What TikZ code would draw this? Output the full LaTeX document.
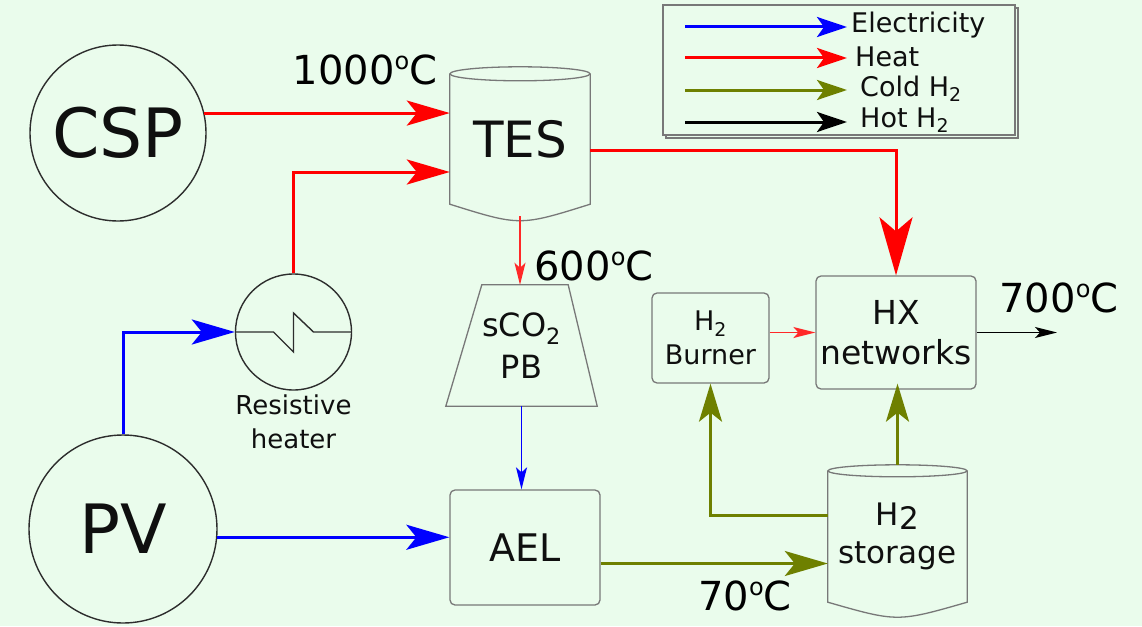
\documentclass[tikz,border=0pt]{standalone}
\usepackage{fontspec}
\setmainfont{DejaVu Sans}
\usetikzlibrary{arrows.meta,calc}
\definecolor{bg}{RGB}{234,252,236}
\definecolor{elec}{RGB}{0,0,255}
\definecolor{heat}{RGB}{255,0,0}
\definecolor{heatlt}{RGB}{255,40,40}
\definecolor{coldh}{RGB}{110,128,0}
\definecolor{boxline}{RGB}{120,120,120}
\definecolor{circline}{RGB}{45,45,45}
\definecolor{txt}{RGB}{15,15,15}
\newcommand\dgo{\raisebox{0.38em}{\scalebox{0.6}{o}}}
\tikzset{
  outl/.style={draw=boxline, line width=1.3pt},
  rbox/.style={draw=boxline, line width=1.3pt, rounded corners=5pt, inner sep=0pt, align=center, text=txt},
  plainbox/.style={draw=none, inner sep=0pt, align=center, text=txt},
  ring/.style={circle, draw=circline, line width=1.4pt, inner sep=0pt, text=txt},
  bigtip/.style={-{Stealth[length=43pt,width=25pt,inset=10pt]}},
  hugetip/.style={-{Stealth[length=58pt,width=33pt,inset=14pt]}},
  medtip/.style={-{Stealth[length=38pt,width=23pt,inset=9pt]}},
  smalltip/.style={-{Stealth[length=22pt,width=11pt,inset=5pt]}},
  legtip/.style={-{Stealth[length=30pt,width=20pt,inset=7pt]}},
  heatw/.style={draw=heat, line width=3pt},
  heatthin/.style={draw=heatlt, line width=1.5pt},
  elecw/.style={draw=elec, line width=3pt},
  electhin/.style={draw=elec, line width=1.5pt},
  coldw/.style={draw=coldh, line width=3pt},
  blackthin/.style={draw=black, line width=1.5pt},
  temp/.style={inner sep=0pt, text=black, font=\fontsize{40}{48}\selectfont},
  legtext/.style={inner sep=0pt, anchor=west, text=txt, font=\fontsize{27}{32}\selectfont},
}
\begin{document}
\begin{tikzpicture}[x=1pt,y=-1pt]
\fill[bg] (0,0) rectangle (1142,626);
\useasboundingbox (0,0) rectangle (1142,626);

% sources
\node[ring, minimum size=176pt, font=\fontsize{68}{78}\selectfont] (csp) at (118,133) {CSP};
\node[ring, minimum size=188pt, font=\fontsize{68}{78}\selectfont] (pv) at (123,529) {PV};

% resistive heater
\node[ring, minimum size=116pt] (heater) at (293.5,332) {};
\draw[circline, line width=1.4pt, shift={(heater.center)}] (-58,0) -- (-20,0) -- (0,20) -- (0,-19) -- (20,0) -- (58,0);
\node[plainbox, anchor=north, font=\fontsize{26}{34}\selectfont] (heaterlbl) at (293.5,395) {Resistive\\heater};

% TES
\node[plainbox, minimum width=140pt, minimum height=130pt, font=\fontsize{50}{58}\selectfont] (tes) at (520,139) {TES};
\draw[outl] (tes.north west) -- (tes.south west) .. controls ($(tes.south)+(0,22)$) .. (tes.south east) -- (tes.north east);
\draw[outl] (tes.north) ellipse [x radius=70pt, y radius=7pt];

% sCO2 PB
\node[plainbox, minimum width=151pt, minimum height=121pt, font=\fontsize{32}{42}\selectfont] (pb) at (521.5,345.5) {sCO\textsubscript{2}\\PB};
\draw[outl] ($(pb.north west)+(36,0)$) -- ($(pb.north east)+(-29,0)$) -- (pb.south east) -- (pb.south west) -- cycle;

% AEL
\node[rbox, minimum width=150pt, minimum height=115pt, font=\fontsize{38}{46}\selectfont] (ael) at (525,547.5) {AEL};

% H2 burner
\node[rbox, minimum width=117pt, minimum height=90pt, font=\fontsize{27}{34}\selectfont] (burner) at (710.5,338) {H\textsubscript{2}\\Burner};

% HX networks
\node[rbox, minimum width=160pt, minimum height=113pt, font=\fontsize{33}{40}\selectfont] (hx) at (896,332.5) {HX\\networks};

% H2 storage
\node[plainbox, minimum width=139pt, minimum height=131pt, font=\fontsize{31}{38}\selectfont] (storage) at (897.5,536.5) {H\raisebox{-0.25ex}{2}\\storage};
\draw[outl] (storage.north west) -- (storage.south west) .. controls ($(storage.south)+(0,20)$) .. (storage.south east) -- (storage.north east);
\draw[outl] (storage.north) ellipse [x radius=69.5pt, y radius=6pt];

% temperature labels
\node[temp] (t1000) at (365,70) {1000\dgo C};
\node[temp] (t600) at (594,266) {600\dgo C};
\node[temp] (t700) at (1059,298) {700\dgo C};
\node[temp] (t70) at (745,596) {70\dgo C};

% heat connectors
\draw[heatw, bigtip] (csp.13) -- (csp.13 -| tes.west);
\draw[heatw, bigtip] (heater.north) |- ([yshift=-33pt]tes.west);
\draw[heatw, hugetip] ([yshift=-11pt]tes.east) -| (hx.north);
\draw[heatthin, smalltip] ($(tes.south)+(0,12)$) -- (tes.south |- pb.north);
\draw[heatthin, smalltip] (hx.west -| burner.east) -- (hx.west);

% electricity connectors
\draw[elecw, bigtip] (pv.north) |- (heater.west);
\draw[elecw, bigtip] (pv.-5) -- (pv.-5 -| ael.west);
\draw[electhin, smalltip] (pb.south) -- (pb.south |- ael.north);

% hydrogen connectors
\draw[coldw, bigtip] ([yshift=-16pt]ael.east) -- ([yshift=-16pt]ael.east -| storage.west);
\draw[coldw, medtip] ([yshift=21.5pt]storage.west) -| (burner.south);
\draw[coldw, medtip] ([yshift=6pt]storage.north) -- ([yshift=6pt]storage.north |- hx.south);
\coordinate (out) at (1057,332.5);
\draw[blackthin, smalltip] (hx.east) -- (out);

% legend
\draw[draw=boxline, line width=1.3pt] (666,8) rectangle (1018,138);
\draw[draw=boxline, line width=1.3pt, fill=bg] (663,5) rectangle (1015,135);
\coordinate (la1) at (685,27);  \coordinate (lb1) at (847,27);
\coordinate (la2) at (685,58);  \coordinate (lb2) at (847,58);
\coordinate (la3) at (685,90);  \coordinate (lb3) at (847,90);
\coordinate (la4) at (685,122); \coordinate (lb4) at (847,122);
\draw[elecw, legtip] (la1) -- (lb1);
\draw[heatw, legtip] (la2) -- (lb2);
\draw[coldw, legtip] (la3) -- (lb3);
\draw[draw=black, line width=3pt, legtip] (la4) -- (lb4);
\node[legtext] (lt1) at (851,25) {Electricity};
\node[legtext] (lt2) at (855,57) {Heat};
\node[legtext] (lt3) at (860,89) {Cold H\textsubscript{2}};
\node[legtext] (lt4) at (860,120) {Hot H\textsubscript{2}};
\end{tikzpicture}
\end{document}
